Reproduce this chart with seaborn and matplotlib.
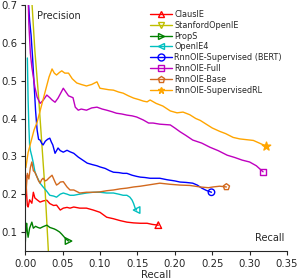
"""
Precision-recall curves for open IE systems.
"""

import matplotlib
matplotlib.use("Agg")
import matplotlib.pyplot as plt
from matplotlib.lines import Line2D
import pandas as pd
import seaborn as sns

SYSTEMS = ["ClausIE", "StanfordOpenIE", "PropS", "OpenIE4",
           "RnnOIE-Supervised (BERT)", "RnnOIE-Full", "RnnOIE-Base",
           "RnnOIE-SupervisedRL"]

CLAUSIE_R = [0.001, 0.002, 0.003, 0.004, 0.006, 0.009, 0.011, 0.013, 0.016, 0.020, 0.024,
             0.029, 0.033, 0.038, 0.042, 0.047, 0.051, 0.056, 0.060, 0.065, 0.073, 0.082,
             0.091, 0.100, 0.109, 0.118, 0.127, 0.136, 0.145, 0.154, 0.163, 0.170, 0.178]
CLAUSIE_P = [0.25, 0.20, 0.17, 0.166, 0.185, 0.176, 0.205, 0.19, 0.185, 0.179, 0.182,
             0.184, 0.175, 0.17, 0.171, 0.158, 0.163, 0.165, 0.163, 0.166, 0.163, 0.163,
             0.158, 0.152, 0.139, 0.135, 0.13, 0.126, 0.124, 0.123, 0.123, 0.12, 0.118]

STANFORD_R = [0.008, 0.009, 0.013, 0.018, 0.022, 0.027, 0.031, 0.034]
STANFORD_P = [0.76, 0.71, 0.58, 0.457, 0.343, 0.20, 0.052, 0.0]

PROPS_R = [0.000, 0.001, 0.002, 0.003, 0.004, 0.006, 0.009, 0.011, 0.014, 0.017, 0.020,
           0.024, 0.029, 0.033, 0.036, 0.039, 0.042, 0.046, 0.049, 0.053, 0.056, 0.058]
PROPS_P = [0.06, 0.105, 0.123, 0.1, 0.086, 0.11, 0.126, 0.11, 0.115, 0.112, 0.11,
           0.114, 0.118, 0.112, 0.11, 0.108, 0.105, 0.1, 0.094, 0.085, 0.079, 0.076]

OPENIE4_R = [0.003, 0.004, 0.005, 0.006, 0.007, 0.009, 0.011, 0.013, 0.016, 0.020, 0.024,
             0.028, 0.033, 0.038, 0.042, 0.047, 0.051, 0.056, 0.060, 0.065, 0.073, 0.082,
             0.091, 0.100, 0.109, 0.118, 0.125, 0.131, 0.136, 0.140, 0.143, 0.145, 0.147, 0.149]
OPENIE4_P = [0.56, 0.45, 0.38, 0.33, 0.316, 0.30, 0.282, 0.26, 0.245, 0.229, 0.219,
             0.21, 0.197, 0.195, 0.192, 0.2, 0.203, 0.2, 0.197, 0.197, 0.2, 0.203,
             0.205, 0.205, 0.203, 0.203, 0.2, 0.197, 0.197, 0.192, 0.184, 0.175, 0.163, 0.158]

BERT_R = [0.002, 0.004, 0.006, 0.008, 0.010, 0.012, 0.014, 0.016, 0.018, 0.020, 0.022,
          0.024, 0.027, 0.030, 0.033, 0.035, 0.037, 0.040, 0.042, 0.044, 0.047, 0.051,
          0.056, 0.060, 0.065, 0.071, 0.077, 0.083, 0.090, 0.096, 0.100, 0.107, 0.113,
          0.118, 0.125, 0.131, 0.136, 0.143, 0.149, 0.154, 0.160, 0.167, 0.175, 0.180,
          0.190, 0.200, 0.207, 0.215, 0.224, 0.230, 0.236, 0.242, 0.249]
BERT_P = [0.85, 0.72, 0.66, 0.62, 0.56, 0.49, 0.42, 0.37, 0.345, 0.343, 0.335,
          0.33, 0.34, 0.345, 0.348, 0.338, 0.33, 0.308, 0.315, 0.322, 0.315, 0.311,
          0.316, 0.312, 0.308, 0.298, 0.29, 0.282, 0.278, 0.275, 0.272, 0.268, 0.262,
          0.258, 0.257, 0.255, 0.255, 0.25, 0.247, 0.245, 0.244, 0.242, 0.242, 0.242,
          0.238, 0.235, 0.232, 0.231, 0.229, 0.224, 0.216, 0.21, 0.205]

FULL_R = [0.003, 0.005, 0.007, 0.009, 0.011, 0.013, 0.016, 0.020, 0.024, 0.029, 0.033,
          0.036, 0.040, 0.044, 0.047, 0.051, 0.058, 0.064, 0.067, 0.071, 0.075, 0.082,
          0.089, 0.096, 0.103, 0.109, 0.116, 0.122, 0.129, 0.136, 0.143, 0.149, 0.158,
          0.165, 0.171, 0.180, 0.194, 0.200, 0.207, 0.215, 0.224, 0.236, 0.247, 0.258,
          0.270, 0.280, 0.290, 0.300, 0.309, 0.318]
FULL_P = [0.80, 0.65, 0.573, 0.536, 0.51, 0.483, 0.457, 0.44, 0.448, 0.462, 0.455,
          0.449, 0.443, 0.454, 0.465, 0.48, 0.46, 0.455, 0.43, 0.422, 0.425, 0.422,
          0.428, 0.43, 0.425, 0.422, 0.418, 0.414, 0.412, 0.409, 0.407, 0.404, 0.396,
          0.388, 0.388, 0.385, 0.383, 0.375, 0.365, 0.355, 0.343, 0.335, 0.324, 0.315,
          0.303, 0.297, 0.29, 0.285, 0.275, 0.259]

BASE_R = [0.001, 0.003, 0.005, 0.007, 0.009, 0.011, 0.013, 0.016, 0.018, 0.020, 0.022,
          0.024, 0.027, 0.029, 0.032, 0.036, 0.040, 0.042, 0.045, 0.047, 0.051, 0.056,
          0.060, 0.065, 0.073, 0.082, 0.091, 0.100, 0.109, 0.118, 0.127, 0.136, 0.145,
          0.154, 0.167, 0.180, 0.194, 0.207, 0.220, 0.234, 0.245, 0.251, 0.260, 0.269]
BASE_P = [0.20, 0.255, 0.24, 0.27, 0.285, 0.262, 0.258, 0.245, 0.235, 0.229, 0.238,
          0.242, 0.235, 0.237, 0.243, 0.25, 0.232, 0.224, 0.228, 0.232, 0.233, 0.219,
          0.211, 0.211, 0.203, 0.205, 0.205, 0.206, 0.209, 0.211, 0.214, 0.216, 0.219,
          0.221, 0.225, 0.229, 0.226, 0.224, 0.223, 0.219, 0.217, 0.219, 0.221, 0.219]

RL_R = [0.001, 0.004, 0.008, 0.012, 0.016, 0.020, 0.024, 0.028, 0.032, 0.036, 0.039,
        0.042, 0.046, 0.049, 0.053, 0.058, 0.063, 0.069, 0.075, 0.082, 0.089, 0.096,
        0.100, 0.106, 0.112, 0.118, 0.125, 0.131, 0.138, 0.145, 0.152, 0.158, 0.163,
        0.167, 0.175, 0.184, 0.194, 0.203, 0.211, 0.220, 0.228, 0.234, 0.242, 0.250,
        0.260, 0.268, 0.278, 0.287, 0.296, 0.305, 0.313, 0.322]
RL_P = [0.27, 0.31, 0.34, 0.37, 0.39, 0.42, 0.45, 0.48, 0.51, 0.531, 0.52,
        0.515, 0.522, 0.526, 0.52, 0.52, 0.505, 0.494, 0.49, 0.486, 0.49, 0.497,
        0.48, 0.478, 0.476, 0.475, 0.47, 0.467, 0.46, 0.454, 0.45, 0.446, 0.444,
        0.449, 0.44, 0.433, 0.42, 0.415, 0.417, 0.41, 0.40, 0.395, 0.385, 0.375,
        0.366, 0.36, 0.35, 0.346, 0.344, 0.342, 0.335, 0.327]

RECALLS = [CLAUSIE_R, STANFORD_R, PROPS_R, OPENIE4_R, BERT_R, FULL_R, BASE_R, RL_R]
PRECISIONS = [CLAUSIE_P, STANFORD_P, PROPS_P, OPENIE4_P, BERT_P, FULL_P, BASE_P, RL_P]

COLORS = ["r", "y", "g", "c", "b", "m", "chocolate", "orange"]
MARKERS = ["^", "v", ">", "<", "o", "s", "p", "*"]

sns.set_style("ticks")
plt.rcParams["font.family"] = ["DejaVu Sans"]

fig = plt.figure(figsize=(2.99, 2.8), dpi=100)
ax = fig.add_axes([0.084, 0.104, 0.876, 0.878])

handles = []
for name, r, p, color, marker in zip(SYSTEMS, RECALLS, PRECISIONS, COLORS, MARKERS):
    df = pd.DataFrame({"recall": r, "precision": p})
    sns.lineplot(data=df, x="recall", y="precision", sort=False, estimator=None,
                 color=color, lw=1.0, ax=ax)
    face = color if marker == "*" else "none"
    size = 40 if marker == "*" else 22
    sns.scatterplot(data=df.iloc[[-1]], x="recall", y="precision", marker=marker,
                    s=size, facecolor=face, edgecolor=color, linewidth=1.0, ax=ax)
    handles.append(Line2D([], [], color=color, lw=1.0, marker=marker,
                          markersize=5, markerfacecolor=face, markeredgecolor=color,
                          label=name))

ax.set_xlim(0, 0.35)
ax.set_ylim(0.05, 0.7)
ax.set_xticks([0.0, 0.05, 0.10, 0.15, 0.20, 0.25, 0.30, 0.35])
ax.set_yticks([0.1, 0.2, 0.3, 0.4, 0.5, 0.6, 0.7])
ax.tick_params(labelsize=7.3, length=3, width=0.8, pad=2.5)
ax.set_xlabel("Recall", fontsize=7.3, labelpad=1)
ax.set_ylabel("")
sns.despine(ax=ax)

ax.text(0.0165, 0.67, "Precision", fontsize=7, va="center", ha="left")
ax.text(0.307, 0.085, "Recall", fontsize=7, va="center", ha="left")

ax.legend(handles=handles, loc="upper right", bbox_to_anchor=(1.0, 1.0),
          frameon=False, fontsize=5.9, handlelength=2.7, handletextpad=0.35,
          labelspacing=0.22, borderaxespad=0.2)

plt.savefig("out.png", dpi=100)
plt.close(fig)
